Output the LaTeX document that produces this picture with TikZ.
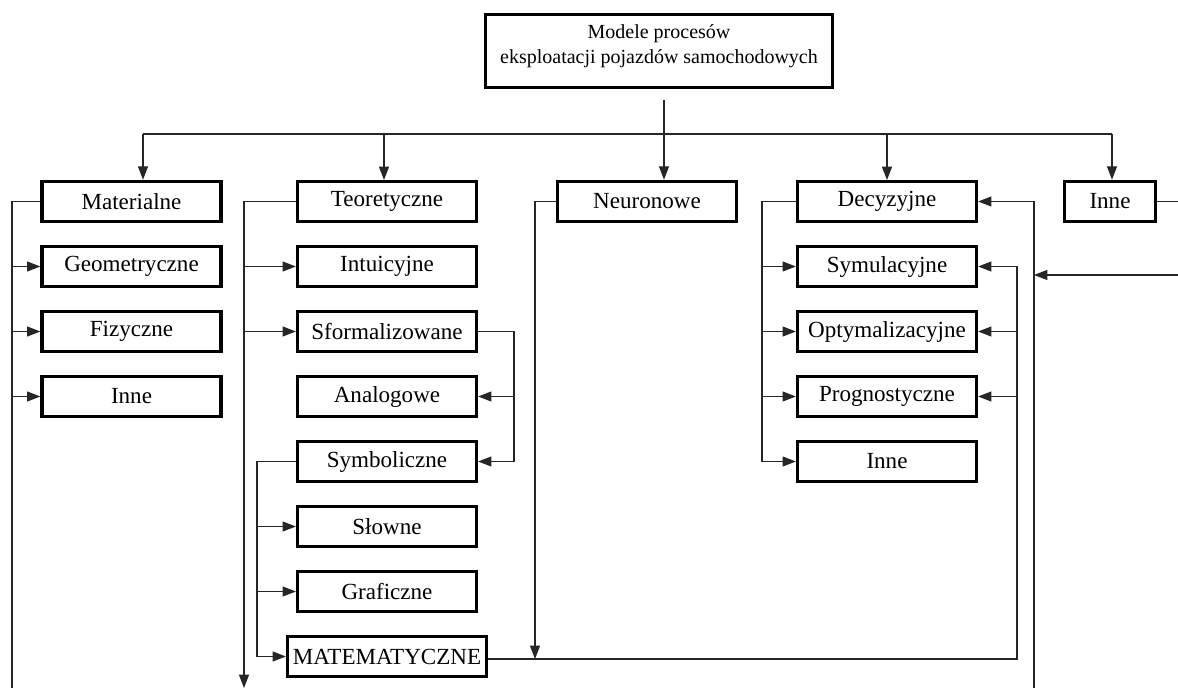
\documentclass[tikz,border=0pt]{standalone}
\usepackage{fontspec}
\setmainfont{Liberation Serif}
\usetikzlibrary{arrows.meta}
\begin{document}
\begin{tikzpicture}[x=0.75pt,y=-0.75pt,
  box/.style={draw=black, line width=2.7pt, fill=white, minimum width=134pt,
    minimum height=30pt, inner sep=0pt, font=\fontsize{17.3}{20}\selectfont},
  link/.style={draw=black!85, line width=0.85pt},
  arr/.style={link, -{Triangle[length=10pt,width=7.5pt]}}]
\useasboundingbox (0,0) rectangle (1178,688);

% root
\node[box, line width=2.4pt, minimum width=260pt, minimum height=55pt, align=center,
  text depth=10pt, font=\fontsize{15}{19}\selectfont] (root) at (659,51)
  {Modele procesów\\eksploatacji pojazdów samochodowych};

% column 1
\node[box] (mat)  at (131.5,201.5) {Materialne};
\node[box] (geo)  at (131.5,266.5) {Geometryczne};
\node[box] (fiz)  at (131.5,331.5) {Fizyczne};
\node[box] (inA)  at (131.5,396.5) {Inne};

% column 2
\node[box] (teo)  at (387,201.5) {Teoretyczne};
\node[box] (int)  at (387,266.5) {Intuicyjne};
\node[box] (sfo)  at (387,331.5) {Sformalizowane};
\node[box] (ana)  at (387,396.5) {Analogowe};
\node[box] (sym)  at (387,461.5) {Symboliczne};
\node[box] (slo)  at (387,526.5) {Słowne};
\node[box] (gra)  at (387,591.5) {Graficzne};
\node[box, minimum width=149pt] (mtm) at (387,656.5) {MATEMATYCZNE};

% column 3
\node[box] (neu)  at (647,201.5) {Neuronowe};

% column 4
\node[box] (dec)  at (887,201.5) {Decyzyjne};
\node[box] (smu)  at (887,266.5) {Symulacyjne};
\node[box] (opt)  at (887,331.5) {Optymalizacyjne};
\node[box] (pro)  at (887,396.5) {Prognostyczne};
\node[box] (inD)  at (887,461.5) {Inne};

% column 5
\node[box, minimum width=68pt] (inE) at (1110,201.5) {Inne};

% distribution bus under the root
\coordinate (busL) at (143,134);
\coordinate (busR) at (1112,134);
\coordinate (rootOut) at (664,100);
\draw[link] (busL) -- (busR);
\draw[arr] (rootOut) -- (rootOut |- neu.north);
\draw[arr] (busL) -- (busL |- mat.north);
\draw[arr] (384,134) -- (384,180);
\draw[arr] (887,134) -- (887,180);
\draw[arr] (busR) -- (busR |- inE.north);

% column 1 branches
\coordinate (c1) at (12,201.5);
\coordinate (c1end) at (12,688);
\draw[link] (mat.west) -- (c1) -- (c1end);
\foreach \n in {geo,fiz,inA} \draw[arr] (c1 |- \n.west) -- (\n.west);

% column 2 branches
\coordinate (c2) at (244,201.5);
\draw[arr] (teo.west) -- (c2) -- (244,688);
\foreach \n in {int,sfo} \draw[arr] (c2 |- \n.west) -- (\n.west);

\coordinate (s1) at (514,331.5);
\draw[arr] (sfo.east) -- (s1) -- (s1 |- sym.east) -- (sym.east);
\draw[arr] (s1 |- ana.east) -- (ana.east);

\coordinate (s2) at (257,461.5);
\draw[arr] (sym.west) -- (s2) -- (s2 |- mtm.west) -- (mtm.west);
\foreach \n in {slo,gra} \draw[arr] (s2 |- \n.west) -- (\n.west);

% column 3
\coordinate (n1) at (535,201.5);
\draw[arr] (neu.west) -- (n1) -- (535,659);

% mathematical models feed the decision models
\coordinate (m1) at (488,659);
\coordinate (m2) at (1017,659);
\draw[arr] (m1) -- (m2) -- (m2 |- smu.east) -- (smu.east);
\draw[arr] (m2 |- opt.east) -- (opt.east);
\draw[arr] (m2 |- pro.east) -- (pro.east);

% column 4 branches
\coordinate (c4) at (762,201.5);
\draw[link] (dec.west) -- (c4) -- (c4 |- inD.west);
\foreach \n in {smu,opt,pro,inD} \draw[arr] (c4 |- \n.west) -- (\n.west);

% return line into the decision models
\coordinate (r1) at (1034,688);
\draw[arr] (r1) -- (r1 |- dec.east) -- (dec.east);
\draw[arr] (1178,275) -- (1034,275);

% column 5
\draw[link] (inE.east) -- (1178,201.5);
\end{tikzpicture}
\end{document}
